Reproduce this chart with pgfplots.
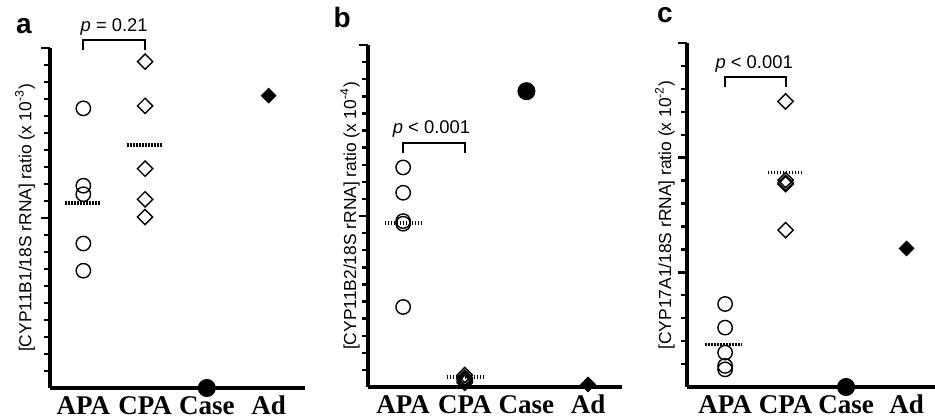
\documentclass[border=0pt]{standalone}
\usepackage{pgfplots}
\pgfplotsset{compat=1.18}
\usepackage{fontspec}
\setmainfont{Liberation Sans}
\newfontfamily\timesf{Liberation Serif}

\pgfplotsset{
  panel/.style={
    scale only axis,
    axis lines=left,
    axis line style={-, line width=2pt},
    clip=false,
    ymin=0,
    xtick={1,2,3,4},
    xticklabels={APA,CPA,Case,Ad},
    xtick style={draw=none},
    xticklabel style={font=\timesf\bfseries\fontsize{13.5}{13.5}\selectfont, anchor=base, inner sep=0pt, yshift=-8.5pt},
    yticklabels={},
    tick align=outside,
    major tick length=4.5pt,
    minor tick length=3pt,
    every tick/.style={black, line width=1.2pt},
    ylabel style={font=\fontsize{8.7}{10}\selectfont, anchor=center},
  },
  apa/.style={only marks, mark=o, mark size=3.6pt, mark options={line width=0.7pt}},
  cpa/.style={only marks, mark=square, mark size=2.7pt, mark options={rotate=45, line width=0.7pt, fill=white}},
  casept/.style={only marks, mark=*, mark size=4.3pt},
  adpt/.style={only marks, mark=square*, mark size=2.6pt, mark options={rotate=45}},
  med/.style={no marks, line width=1.8pt, dash pattern=on 0.7pt off 0.8pt},
  brk/.style={no marks, line width=1.1pt},
}
\tikzset{
  ptxt/.style={font=\fontsize{9.2}{10}\selectfont, anchor=base},
  lett/.style={font=\bfseries\fontsize{14}{14}\selectfont, anchor=base, inner sep=0pt},
}

\begin{document}
\begin{tikzpicture}
\useasboundingbox (0,0) rectangle (467.5pt,209pt);

% panel a
\begin{axis}[panel, at={(25pt,15pt)}, anchor=south west,
  width=127.5pt, height=170pt,
  xmin=0.46, xmax=4.59, ymax=20,
  ytick={10,20}, minor ytick={1,2,...,19},
  ylabel={[CYP11B1/18S rRNA] ratio (x 10\textsuperscript{-3})},
  ylabel style={at={(axis description cs:-0.098,0.5)}}]
\addplot[med] coordinates {(0.71,10.9) (1.29,10.9)};
\addplot[med] coordinates {(1.71,14.3) (2.29,14.3)};
\addplot[apa] coordinates {(1,16.45) (1,11.9) (1,11.4) (1,8.5) (1,6.9)};
\addplot[cpa] coordinates {(2,19.2) (2,16.6) (2,12.9) (2,11.1) (2,10.06)};
\addplot[casept] coordinates {(3,0)};
\addplot[adpt] coordinates {(4,17.2)};
\addplot[brk] coordinates {(1,19.88) (1,20.47) (2,20.47) (2,19.88)};
\node[ptxt] at (axis cs:1.5,21.0) {\textit{p} = 0.21};
\node[lett] at (axis description cs:-0.102,1.044) {a};
\end{axis}

% panel b
\begin{axis}[panel, at={(184pt,15.5pt)}, anchor=south west,
  width=127pt, height=171pt,
  xmin=0.43, xmax=4.55, ymax=20,
  ytick={10,20}, minor ytick={1,2,...,19},
  ylabel={[CYP11B2/18S rRNA] ratio (x 10\textsuperscript{-4})},
  ylabel style={at={(axis description cs:-0.071,0.5)}}]
\addplot[med] coordinates {(0.7,9.6) (1.3,9.6)};
\addplot[med] coordinates {(1.71,0.58) (2.31,0.58)};
\addplot[apa] coordinates {(1,12.84) (1,11.36) (1,9.7) (1,9.55) (1,4.68)};
\addplot[cpa] coordinates {(2,0.7) (2,0.55) (2,0.45) (2,0.35) (2,0.25)};
\addplot[casept] coordinates {(3,17.3)};
\addplot[adpt] coordinates {(4,0.15)};
\addplot[brk] coordinates {(1,13.66) (1,14.25) (2,14.25) (2,13.66)};
\node[ptxt] at (axis cs:1.46,14.84) {\textit{p} < 0.001};
\node[lett] at (axis description cs:-0.102,1.05) {b};
\end{axis}

% panel c
\begin{axis}[panel, at={(343.5pt,15.5pt)}, anchor=south west,
  width=124pt, height=172pt,
  xmin=0.37, xmax=4.47, ymax=15,
  ytick={5,10,15}, minor ytick={1,2,3,4,6,7,8,9,11,12,13,14},
  ylabel={[CYP17A1/18S rRNA] ratio (x 10\textsuperscript{-2})},
  ylabel style={at={(axis description cs:-0.089,0.5)}}]
\addplot[med] coordinates {(0.67,1.86) (1.28,1.86)};
\addplot[med] coordinates {(1.71,9.35) (2.29,9.35)};
\addplot[apa] coordinates {(1,3.62) (1,2.59) (1,1.5) (1,0.92) (1,0.77)};
\addplot[cpa] coordinates {(2,12.45) (2,9.02) (2,8.9) (2,8.85) (2,6.84)};
\addplot[casept] coordinates {(3,0)};
\addplot[adpt] coordinates {(4,6.04)};
\addplot[brk] coordinates {(1,13.08) (1,13.52) (2,13.52) (2,13.08)};
\node[ptxt] at (axis cs:1.48,13.9) {\textit{p} < 0.001};
\node[lett] at (axis description cs:-0.089,1.06) {c};
\end{axis}
\end{tikzpicture}
\end{document}
